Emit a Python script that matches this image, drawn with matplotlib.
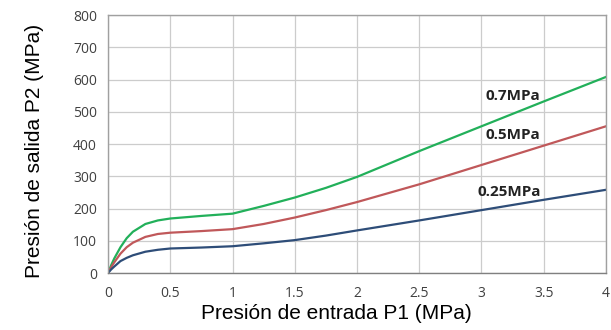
import matplotlib.pyplot as plt

# input pressure P1 (MPa)
p1 = [0, 0.025, 0.05, 0.1, 0.15, 0.2, 0.3, 0.4, 0.5, 0.75, 1, 1.25, 1.5, 1.75, 2, 2.5, 3, 3.5, 4]

# output pressure P2 (MPa) for each supply level
p2_07 = [0, 24, 45, 80, 108, 128, 152, 163, 169, 177, 184, 208, 234, 264, 298, 378, 455, 532, 608]
p2_05 = [0, 18, 33, 60, 80, 94, 112, 121, 125, 130, 136, 152, 172, 195, 220, 275, 335, 395, 455]
p2_025 = [0, 11, 20, 37, 47, 55, 66, 72, 76, 79, 83, 92, 102, 116, 132, 163, 195, 227, 258]

xticks = [0, 0.5, 1, 1.5, 2, 2.5, 3, 3.5, 4]
xticklabels = ['0', '0.5', '1', '1.5', '2', '2.5', '3', '3.5', '4']
yticks = [0, 100, 200, 300, 400, 500, 600, 700, 800]

fig = plt.figure(figsize=(6.11, 3.30), dpi=100)
ax = fig.add_axes([0.1768, 0.1727, 0.815, 0.7818])

ax.plot(p1, p2_07, color='#22b05a', linewidth=1.6)
ax.plot(p1, p2_05, color='#c0585a', linewidth=1.6)
ax.plot(p1, p2_025, color='#2e4d78', linewidth=1.6)

lbl = dict(fontsize=11, fontweight='bold', family='Open Sans', color='#222222', va='center')
ax.text(3.03, 550, '0.7MPa', **lbl)
ax.text(3.03, 428, '0.5MPa', **lbl)
ax.text(2.97, 250, '0.25MPa', **lbl)

ax.set_xlim(0, 4)
ax.set_ylim(0, 800)
ax.set_xticks(xticks)
ax.set_xticklabels(xticklabels)
ax.set_yticks(yticks)
ax.grid(True, color='#cccccc', linewidth=0.9)
ax.set_axisbelow(True)
ax.tick_params(axis='y', length=0, pad=8, labelsize=10, labelcolor='#404040')
ax.tick_params(axis='x', length=0, pad=9, labelsize=10, labelcolor='#404040')
for lab in ax.get_xticklabels() + ax.get_yticklabels():
    lab.set_family('Open Sans')
for s in ax.spines.values():
    s.set_color('#a0a0a0')
    s.set_linewidth(1.0)
ax.spines['bottom'].set_color('#808080')

ax.set_xlabel('Presión de entrada P1 (MPa)', fontsize=15, family='Liberation Sans')
ax.set_ylabel('Presión de salida P2 (MPa)', fontsize=15, family='Liberation Sans')
# label positions measured in pixels from the reference
ax.xaxis.set_label_coords((336 - 108) / 498, (272 - 303) / 257)
ax.yaxis.set_label_coords((44 - 108) / 498, (272 - 150) / 257)

plt.savefig('out.png', dpi=100)
